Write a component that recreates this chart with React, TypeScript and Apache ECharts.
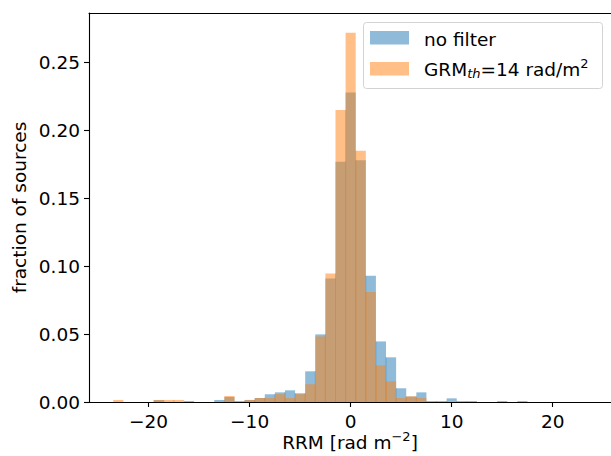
import React, { useEffect, useRef } from "react";
import * as echarts from "echarts";

// Histogram bins (centres, rad m^-2), bin width 1
const binCenters = [
  -23, -22, -21, -20, -19, -18, -17, -16, -15, -14, -13, -12, -11, -10, -9, -8,
  -7, -6, -5, -4, -3, -2, -1, 0, 1, 2, 3, 4, 5, 6, 7, 8, 9, 10, 11, 12, 13, 14,
  15, 16, 17, 18, 19, 20, 21, 22, 23, 24,
];
const binWidth = 1.0;

// "no filter" fractions
const noFilter = [
  0, 0, 0, 0, 0.0014, 0, 0, 0.0007, 0, 0, 0.0015, 0.0037, 0.0007, 0.0015, 0.003, 0.0057,
  0.0071, 0.0086, 0.0064, 0.0226, 0.0498, 0.091, 0.177, 0.228, 0.178, 0.093, 0.0446, 0.0329, 0.0101, 0.004, 0.0071, 0.0007,
  0.0007, 0.0027, 0.0007, 0.0007, 0, 0, 0.0007, 0, 0.0007, 0, 0, 0, 0, 0, 0, 0,
];

// "GRM_th = 14 rad/m^2" fractions
const grmFiltered = [
  0.0015, 0, 0, 0, 0.0015, 0.0015, 0.0015, 0, 0, 0, 0, 0.0044, 0, 0.0015, 0.0029, 0.0029,
  0.0058, 0.0029, 0.0058, 0.0131, 0.0483, 0.0946, 0.215, 0.272, 0.185, 0.081, 0.027, 0.0152, 0.0029, 0.0042, 0.0029, 0,
  0, 0, 0, 0, 0, 0, 0, 0, 0, 0, 0, 0, 0, 0, 0, 0,
];

const xTicks = [-20, -10, 0, 10, 20];
const yTicks = [0, 0.05, 0.1, 0.15, 0.2, 0.25];
const xRange = [-25.9, 25.77];
const yRange = [0, 0.2865];

const FONT = "DejaVu Sans";
const FS = 18.5;
const FS_SMALL = 13;
const BLUE = "rgba(31,119,180,0.5)";
const ORANGE = "rgba(255,127,14,0.5)";

export default function App() {
  const ref = useRef<HTMLDivElement>(null);

  useEffect(() => {
    const chart = echarts.init(ref.current!, null, { renderer: "svg" });

    const makeRender = (vals: number[], fill: string, edge: string) =>
      (params: any, api: any) => {
        const i = params.dataIndex;
        const c = api.value(0);
        const v = api.value(1);
        if (!v) return { type: "group", children: [] };
        const p0 = api.coord([c - binWidth / 2, v]);
        const p1 = api.coord([c + binWidth / 2, 0]);
        const children: any[] = [
          {
            type: "rect",
            shape: { x: p0[0], y: p0[1], width: p1[0] - p0[0], height: p1[1] - p0[1] },
            style: { fill },
          },
        ];
        const prev = i > 0 ? vals[i - 1] : 0;
        const h = Math.min(prev, v);
        if (h > 0) {
          const q = api.coord([c - binWidth / 2, h]);
          children.push({
            type: "line",
            shape: { x1: p0[0], y1: q[1], x2: p0[0], y2: p1[1] },
            style: { stroke: edge, lineWidth: 1 },
          });
        }
        return { type: "group", children };
      };

    const axisCommon = {
      axisLine: { show: true, onZero: false, lineStyle: { color: "#000", width: 1.1 } },
      axisTick: { show: true, length: 5, lineStyle: { color: "#000", width: 1.1 } },
      splitLine: { show: false },
    };

    chart.setOption({
      animation: false,
      grid: { left: 89, right: 0, top: 13, bottom: 54, containLabel: false, outerBoundsMode: "none" },
      xAxis: [
        {
          type: "value",
          min: xRange[0],
          max: xRange[1],
          position: "bottom",
          ...axisCommon,
          axisTick: { ...axisCommon.axisTick, customValues: xTicks },
          axisLabel: {
            customValues: xTicks,
            margin: 10,
            color: "#000",
            fontFamily: FONT,
            fontSize: FS,
            formatter: (v: number) => String(v).replace("-", "\u2212"),
          },
          name: "{a|RRM [rad m}{s|\u22122}{a|]}",
          nameLocation: "middle",
          nameGap: 28,
          nameMoveOverlap: false,
          nameTextStyle: {
            color: "#000",
            fontFamily: FONT,
            fontSize: FS,
            rich: {
              a: { fontFamily: FONT, fontSize: FS, color: "#000" },
              s: { fontFamily: FONT, fontSize: FS_SMALL, color: "#000", padding: [0, 0, 12, 0] },
            },
          },
        },
        {
          type: "value",
          min: xRange[0],
          max: xRange[1],
          position: "top",
          axisLine: { show: true, onZero: false, lineStyle: { color: "#000", width: 1.1 } },
          axisTick: { show: false },
          axisLabel: { show: false },
          splitLine: { show: false },
        },
      ],
      yAxis: {
        type: "value",
        min: yRange[0],
        max: yRange[1],
        ...axisCommon,
        axisTick: { ...axisCommon.axisTick, customValues: yTicks },
        axisLabel: {
          customValues: yTicks,
          margin: 9,
          color: "#000",
          fontFamily: FONT,
          fontSize: FS,
          formatter: (v: number) => v.toFixed(2),
        },
        name: "fraction of sources",
        nameLocation: "middle",
        nameGap: 60,
        nameMoveOverlap: false,
        nameTextStyle: { color: "#000", fontFamily: FONT, fontSize: FS },
      },
      series: [
        {
          type: "custom",
          name: "no filter",
          xAxisIndex: 0,
          yAxisIndex: 0,
          renderItem: makeRender(noFilter, BLUE, "rgba(31,119,180,0.35)"),
          data: binCenters.map((c, i) => [c, noFilter[i]]),
          z: 2,
        },
        {
          type: "custom",
          name: "GRM",
          xAxisIndex: 0,
          yAxisIndex: 0,
          renderItem: makeRender(grmFiltered, ORANGE, "rgba(255,127,14,0.55)"),
          data: binCenters.map((c, i) => [c, grmFiltered[i]]),
          z: 3,
        },
      ],
      graphic: [
        {
          type: "group",
          z: 100,
          children: [
            {
              type: "rect",
              shape: { x: 363.5, y: 22.5, width: 239, height: 66, r: 3 },
              style: { fill: "rgba(255,255,255,0.8)", stroke: "#d3d3d3", lineWidth: 1 },
            },
            {
              type: "rect",
              shape: { x: 370, y: 31, width: 39, height: 13.5 },
              style: { fill: BLUE },
            },
            {
              type: "rect",
              shape: { x: 370, y: 62, width: 39, height: 13.5 },
              style: { fill: ORANGE },
            },
            {
              type: "text",
              x: 424,
              y: 39,
              style: {
                text: "no filter",
                fontFamily: FONT,
                fontSize: FS,
                fill: "#000",
                verticalAlign: "middle",
              },
            },
            {
              type: "text",
              x: 424,
              y: 69,
              style: {
                text: "{a|GRM}{b|th}{a|=14 rad/m}{c|2}",
                fontFamily: FONT,
                fontSize: FS,
                fill: "#000",
                verticalAlign: "middle",
                rich: {
                  a: { fontFamily: FONT, fontSize: FS, fill: "#000" },
                  b: { fontFamily: FONT, fontSize: FS_SMALL, fontStyle: "italic", fill: "#000", padding: [8, 0, 0, 0] },
                  c: { fontFamily: FONT, fontSize: FS_SMALL, fill: "#000", padding: [0, 0, 12, 0] },
                },
              },
            },
          ],
        },
      ],
    });

    return () => chart.dispose();
  }, []);

  return (
    <div
      ref={ref}
      style={{ position: "absolute", left: 0, top: 0, width: 611, height: 456, background: "#fff" }}
    />
  );
}
